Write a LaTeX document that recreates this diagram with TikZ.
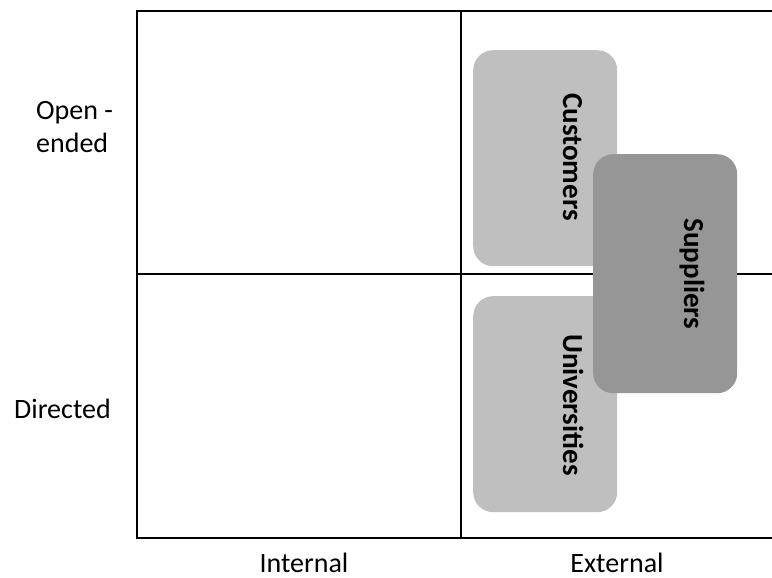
\documentclass[tikz,border=0pt]{standalone}
\usepackage{fontspec}
\setmainfont{Carlito}
\definecolor{lightbox}{RGB}{191,191,191}
\definecolor{darkbox}{RGB}{150,150,150}
\begin{document}
\begin{tikzpicture}[x=1pt,y=-1pt,
  gridline/.style={line width=2pt,black},
  blob/.style={rectangle,rounded corners=20pt,draw=none,inner sep=0pt,anchor=north west},
  lightblob/.style={blob,fill=lightbox},
  darkblob/.style={blob,fill=darkbox},
  blobtext/.style={font=\fontsize{29}{34}\selectfont\bfseries,rotate=-90,anchor=base,inner sep=0pt},
  axistext/.style={font=\fontsize{28}{33}\selectfont,inner sep=0pt}]
\useasboundingbox (0,0) rectangle (772,578);
% frame
\coordinate (tl) at (137,11);
\coordinate (tr) at (772,11);
\coordinate (bl) at (137,538);
\coordinate (br) at (772,538);
\coordinate (vt) at (461,11);
\coordinate (vb) at (461,538);
\coordinate (hl) at (137,274);
\coordinate (hr) at (772,274);
\draw[gridline] (tr) -- (tl) -- (bl) -- (br);
\draw[gridline] (vt) -- (vb);
\draw[gridline] (hl) -- (hr);
% boxes
\node[lightblob,minimum width=144pt,minimum height=216pt] (cust) at (473,50) {};
\node[lightblob,minimum width=144pt,minimum height=216pt] (univ) at (473,296) {};
\node[darkblob,minimum width=144pt,minimum height=239pt] (supp) at (593,154) {};
\node[blobtext] (custt) at (563,157) {Customers};
\node[blobtext] (univt) at (563,405) {Universities};
\node[blobtext] (suppt) at (684,274) {Suppliers};
% axis labels
\node[axistext,align=left,anchor=base west] (open) at (36,153) {Open -\\ended};
\node[axistext,anchor=base west] (dir) at (14,418) {Directed};
\node[axistext,anchor=base] (int) at (304,572) {Internal};
\node[axistext,anchor=base] (ext) at (617,572) {External};
\end{tikzpicture}
\end{document}
